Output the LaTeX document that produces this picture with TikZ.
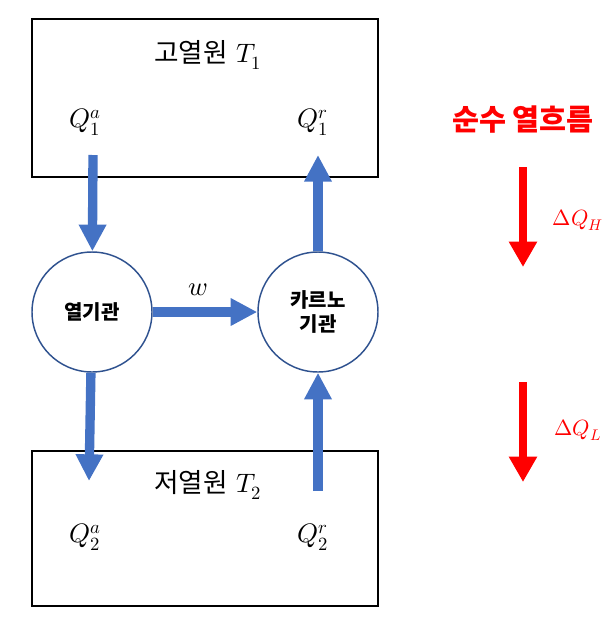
\documentclass[tikz,border=0pt]{standalone}
\usepackage{fontspec}
\usepackage{unicode-math}
\newfontfamily\kr{Noto Sans CJK KR}
\usepackage{tikz}
\usetikzlibrary{arrows.meta}

\definecolor{flowblue}{HTML}{4472C4}
\definecolor{rimblue}{HTML}{2F528F}

\tikzset{
    reservoir/.style={draw, line width=1.5pt},
    engine/.style={circle, draw=rimblue, line width=1.1pt, minimum size=90pt, inner sep=0pt, align=center, font=\kr\bfseries\fontsize{15}{18}\selectfont},
    flow/.style={flowblue, line width=7pt, -{Triangle[width=19.5pt, length=20pt]}},
    net/.style={red, line width=6pt, -{Triangle[width=20pt, length=19pt]}},
    big/.style={font=\fontsize{20}{24}\selectfont},
}

\begin{document}
\begin{tikzpicture}[x=0.75pt, y=-0.75pt]
        \useasboundingbox (0,0) rectangle (608,626);

        % Reservoirs
        \draw[reservoir] (32,19) rectangle (378,177);
        \draw[reservoir] (32,451) rectangle (378,606);
        \node[big] (hot) at (208,55) {{\kr 고열원} $T_1$};
        \node[big] (cold) at (208,485) {{\kr 저열원} $T_2$};
        \node[big] (q1a) at (85,122) {$Q_1^a$};
        \node[big] (q1r) at (313,122) {$Q_1^r$};
        \node[big] (q2a) at (85,537) {$Q_2^a$};
        \node[big] (q2r) at (313,537) {$Q_2^r$};

        % Engines
        \node[engine] (heat) at (92,312) {열기관};
        \node[engine] (carnot) at (318,312) {카르노\\기관};

        \coordinate (a1) at (93,155);
        \coordinate (a2) at (89,481);
        \coordinate (b1) at (318,155);
        \coordinate (b2) at (318,491);

        \draw[flow] (a1) -- (heat);
        \draw[flow] (heat) -- (a2);
        \draw[flow] (carnot) -- (b1);
        \draw[flow] (b2) -- (carnot);
        \draw[flow] (heat) -- (carnot);
        \node[big] (work) at (198,290) {$w$};

        % Net heat flow
        \node[red, font=\kr\bfseries\fontsize{22}{26}\selectfont] (title) at (523,120) {순수 열흐름};
        \coordinate (h1) at (523,167);
        \coordinate (h2) at (523,267);
        \coordinate (l1) at (523,382);
        \coordinate (l2) at (523,482);
        \draw[net] (h1) -- (h2);
        \draw[net] (l1) -- (l2);
        \node[red, font=\fontsize{16.5}{20}\selectfont] (dqh) at (578,220) {$\Delta Q_H$};
        \node[red, font=\fontsize{16.5}{20}\selectfont] (dql) at (578,430) {$\Delta Q_L$};
\end{tikzpicture}
\end{document}
